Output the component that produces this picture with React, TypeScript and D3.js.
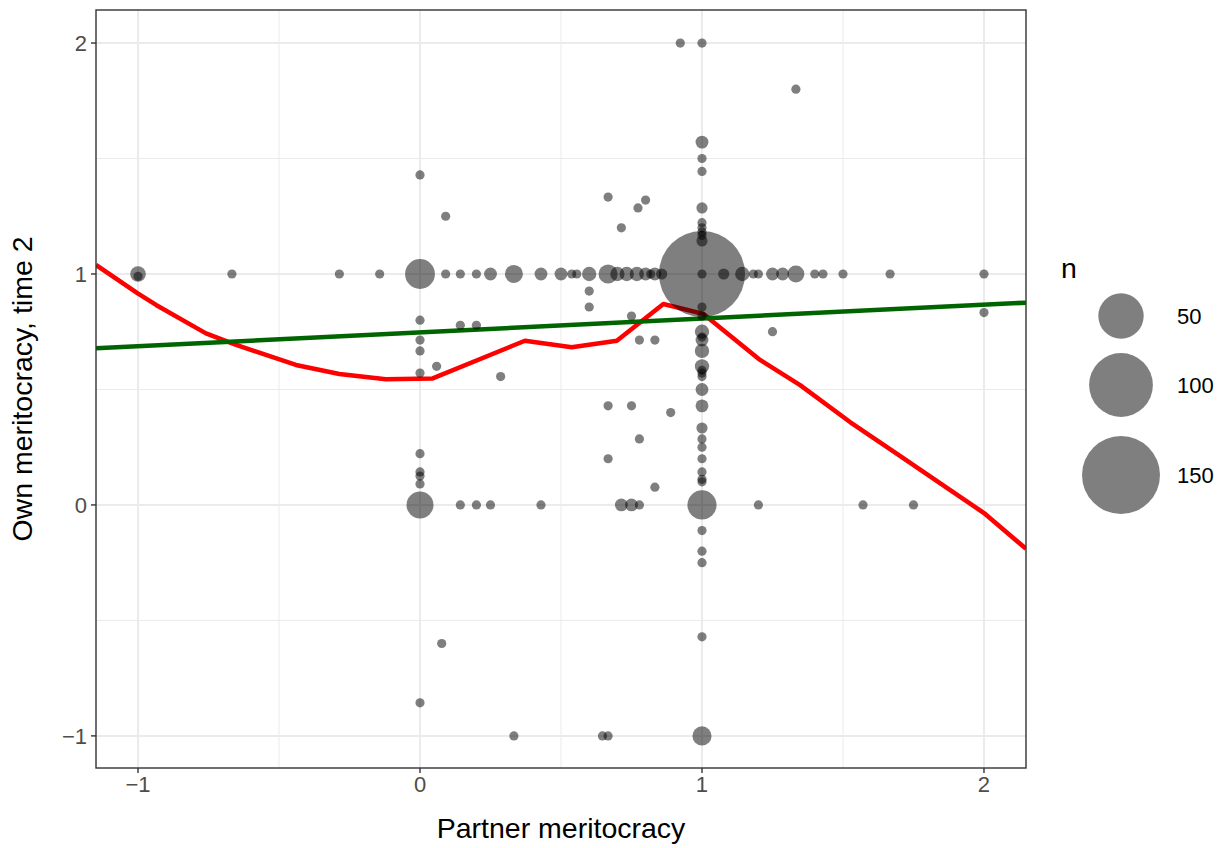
import * as d3 from "d3";

// points: partner meritocracy (x), own meritocracy time 2 (y), count (n)
const pointX = [
  -1, -1, -0.667, -0.286, -0.143, 0, 0.091, 0.143, 0.2, 0.25, 0.333, 0.429, 0.5, 0.538, 0.556, 0.6, 0.667, 0.7, 0.733, 0.769, 0.8, 0.818, 0.833, 0.857,
  1, 1, 1.077, 1.143, 1.182, 1.2, 1.25, 1.286, 1.333, 1.4, 1.429, 1.5, 1.667, 2,
  0, 0, 0, 0, 0, 0, 0, 0, 0, 0, 0,
  1, 1, 1, 1, 1, 1, 1, 1, 1, 1, 1, 1, 1, 1, 1, 1, 1, 1, 1, 1, 1, 1, 1, 1, 1, 1, 1, 1, 1, 1, 1, 1, 1, 1, 1,
  0.143, 0.2, 0.25, 0.429, 0.714, 0.75, 0.778, 1.2, 1.571, 1.75,
  0.333, 0.647, 0.667,
  0.923, 1.333, 0.667, 0.714, 0.773, 0.8, 0.091, 0.6, 0.6, 0.75, 0.778, 0.833, 0.143, 0.2, 0.059, 0.286, 1.25, 2, 0.667, 0.75, 0.889, 0.778, 0.667, 0.833, 0.077,
];
const pointY = [
  1, 0.99, 1, 1, 1, 1, 1, 1, 1, 1, 1, 1, 1, 1, 1, 1, 1, 1, 1, 1, 1, 1, 1, 1,
  1, 1, 1, 1, 1, 1, 1, 1, 1, 1, 1, 1, 1, 1,
  1.429, 0.8, 0.714, 0.667, 0.571, 0.222, 0.143, 0.125, 0.091, 0, -0.857,
  2, 1.571, 1.5, 1.444, 1.286, 1.222, 1.2, 1.182, 1.167, 1.143, 0.857, 0.818, 0.75, 0.727, 0.714, 0.667, 0.6, 0.583, 0.571, 0.556, 0.5, 0.429, 0.333, 0.286, 0.25, 0.2, 0.143, 0.111, 0.1, 0, -0.111, -0.2, -0.25, -0.571, -1,
  0, 0, 0, 0, 0, 0, 0, 0, 0, 0,
  -1, -1, -1,
  2, 1.8, 1.333, 1.2, 1.286, 1.32, 1.25, 0.926, 0.857, 0.818, 0.714, 0.714, 0.778, 0.778, 0.6, 0.556, 0.75, 0.833, 0.429, 0.429, 0.4, 0.286, 0.2, 0.077, -0.6,
];
const pointN = [
  5, 1, 1, 1, 1, 21, 1, 1, 1, 3, 7, 3, 3, 1, 1, 4, 8, 4, 4, 4, 3, 1, 3, 2,
  183, 1, 2, 4, 1, 1, 3, 3, 6, 1, 1, 1, 1, 1,
  1, 1, 1, 1, 1, 1, 1, 1, 1, 17, 1,
  1, 3, 1, 1, 2, 1, 1, 1, 1, 2, 1, 1, 4, 1, 3, 4, 4, 1, 1, 1, 3, 3, 2, 1, 1, 1, 1, 1, 1, 20, 1, 1, 1, 1, 8,
  1, 1, 1, 1, 3, 3, 1, 1, 1, 1,
  1, 1, 1,
  1, 1, 1, 1, 1, 1, 1, 1, 1, 1, 1, 1, 1, 1, 1, 1, 1, 1, 1, 1, 1, 1, 1, 1, 1,
];

// smoother (red)
const smoothX = [-1.149, -1.001, -0.936, -0.759, -0.652, -0.44, -0.286, -0.121, 0.045, 0.372, 0.538, 0.698, 0.863, 1.005, 1.206, 1.348, 1.525, 1.702, 1.879, 2.0, 2.149];
const smoothY = [1.039, 0.916, 0.866, 0.743, 0.693, 0.606, 0.567, 0.544, 0.548, 0.711, 0.683, 0.711, 0.87, 0.827, 0.628, 0.519, 0.359, 0.212, 0.065, -0.035, -0.19];

// linear fit (green)
const fitIntercept = 0.747;
const fitSlope = 0.06;

const xTicks = [-1, 0, 1, 2];
const yTicks = [-1, 0, 1, 2];
const xMinor = [-0.5, 0.5, 1.5];
const yMinor = [-0.5, 0.5, 1.5];
const legendN = [50, 100, 150];

const font = "'Liberation Sans', Arial, sans-serif";
const fmt = (v: number) => (v < 0 ? "\u2212" + Math.abs(v) : String(v));

export default function App() {
  const left = 96, right = 1026, top = 10, bottom = 768;
  const x = d3.scaleLinear().domain([-1.149, 2.149]).range([left, right]);
  const y = d3.scaleLinear().domain([-1.139, 2.143]).range([bottom, top]);
  const areaScale = d3.scaleLinear().domain([1, 150]).range([4.6 * 4.6, 39 * 39]);
  const r = (n: number) => Math.sqrt(areaScale(n));

  const smoothLine = d3
    .line<number>()
    .x((_, i) => x(smoothX[i]))
    .y((d) => y(d));
  const xDom = x.domain();

  return (
    <svg width={1228} height={848} style={{ position: "absolute", left: 0, top: 0, background: "#fff" }} fontFamily={font}>
      <defs>
        <clipPath id="panel">
          <rect x={left} y={top} width={right - left} height={bottom - top} />
        </clipPath>
      </defs>
      <rect x={0} y={0} width={1228} height={848} fill="#fff" />
      {/* grid */}
      {xMinor.map((t) => (
        <line key={"xm" + t} x1={x(t)} x2={x(t)} y1={top} y2={bottom} stroke="#ebebeb" strokeWidth={1} />
      ))}
      {yMinor.map((t) => (
        <line key={"ym" + t} y1={y(t)} y2={y(t)} x1={left} x2={right} stroke="#ebebeb" strokeWidth={1} />
      ))}
      {xTicks.map((t) => (
        <line key={"xg" + t} x1={x(t)} x2={x(t)} y1={top} y2={bottom} stroke="#ebebeb" strokeWidth={2} />
      ))}
      {yTicks.map((t) => (
        <line key={"yg" + t} y1={y(t)} y2={y(t)} x1={left} x2={right} stroke="#ebebeb" strokeWidth={2} />
      ))}

      <g clipPath="url(#panel)">
        <path d={smoothLine(smoothY) || ""} fill="none" stroke="#ff0000" strokeWidth={4.5} strokeLinejoin="round" />
        <line
          x1={x(xDom[0])}
          y1={y(fitIntercept + fitSlope * xDom[0])}
          x2={x(xDom[1])}
          y2={y(fitIntercept + fitSlope * xDom[1])}
          stroke="#006400"
          strokeWidth={4.5}
        />
        {pointX.map((px, i) => (
          <circle key={i} cx={x(px)} cy={y(pointY[i])} r={r(pointN[i])} fill="#000" fillOpacity={0.5} />
        ))}
      </g>

      <rect x={left} y={top} width={right - left} height={bottom - top} fill="none" stroke="#333" strokeWidth={1.4} />

      {/* axes */}
      {xTicks.map((t) => (
        <g key={"xt" + t}>
          <line x1={x(t)} x2={x(t)} y1={bottom} y2={bottom + 5} stroke="#333" strokeWidth={1.4} />
          <text x={x(t)} y={bottom + 24} textAnchor="middle" fontSize={22} fill="#4d4d4d">
            {fmt(t)}
          </text>
        </g>
      ))}
      {yTicks.map((t) => (
        <g key={"yt" + t}>
          <line x1={left - 5} x2={left} y1={y(t)} y2={y(t)} stroke="#333" strokeWidth={1.4} />
          <text x={left - 9} y={y(t)} dy="0.35em" textAnchor="end" fontSize={22} fill="#4d4d4d">
            {fmt(t)}
          </text>
        </g>
      ))}
      <text x={(left + right) / 2} y={838} textAnchor="middle" fontSize={28.5} fill="#000">
        Partner meritocracy
      </text>
      <text transform={`translate(32,${(top + bottom) / 2}) rotate(-90)`} textAnchor="middle" fontSize={28.5} fill="#000">
        Own meritocracy, time 2
      </text>

      {/* legend */}
      <text x={1061} y={278} fontSize={28.5} fill="#000">
        n
      </text>
      {legendN.map((n, i) => {
        const cy = [316, 385, 475][i];
        return (
          <g key={"lg" + n}>
            <circle cx={1121} cy={cy} r={r(n)} fill="#000" fillOpacity={0.5} />
            <text x={1177} y={cy} dy="0.35em" fontSize={22} fill="#000">
              {n}
            </text>
          </g>
        );
      })}
    </svg>
  );
}
